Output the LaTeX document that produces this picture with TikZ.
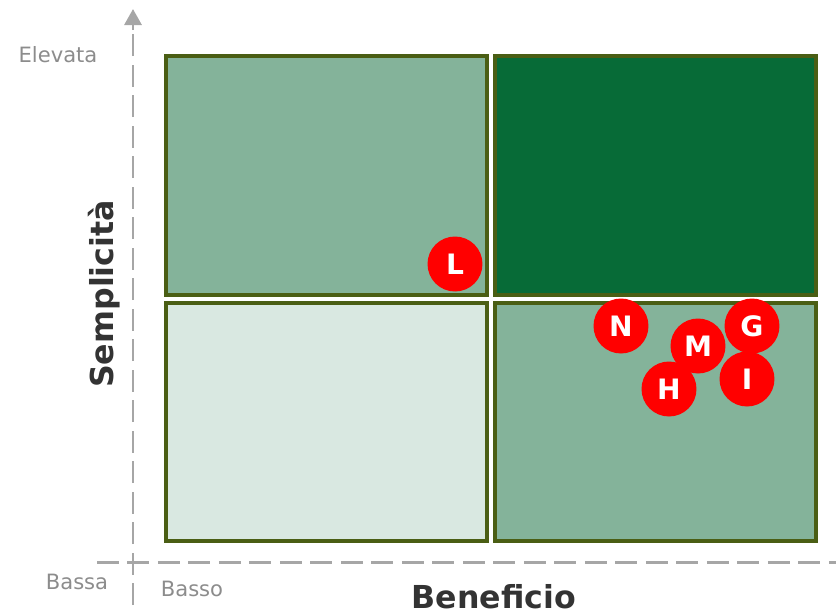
\documentclass[tikz,border=0pt]{standalone}
\usepackage{fontspec}
\setmainfont{DejaVu Sans}
\usepackage{tikz}
\usetikzlibrary{arrows.meta}

\definecolor{bordo}{HTML}{4A5E14}
\definecolor{medio}{HTML}{84B39A}
\definecolor{scuro}{HTML}{076B37}
\definecolor{chiaro}{HTML}{D9E8E1}
\definecolor{asse}{HTML}{A6A6A6}
\definecolor{etich}{HTML}{8C8C8C}
\definecolor{titolo}{HTML}{333333}

\begin{document}
\begin{tikzpicture}[x=0.02cm, y=-0.02cm,
    quadrante/.style={draw=bordo, line width=2pt},
    progetto/.style={shape=circle, fill=red, text=white, minimum size=1.1cm, inner sep=0pt, font=\fontsize{16}{18}\selectfont\bfseries},
    livello/.style={text=etich, font=\fontsize{12}{14}\selectfont},
    assetratt/.style={draw=asse, line width=1.7pt, dash pattern=on 0.44cm off 0.17cm}]
        \useasboundingbox (0,0) rectangle (836,616);
        % quadranti
        \draw[quadrante, fill=medio] (166,56) rectangle (487,295);
        \draw[quadrante, fill=scuro] (495,56) rectangle (816,295);
        \draw[quadrante, fill=chiaro] (166,303) rectangle (487,541);
        \draw[quadrante, fill=medio] (495,303) rectangle (816,541);
        % assi
        \coordinate (Y0) at (133,605);
        \coordinate (Y1) at (133,9);
        \coordinate (X0) at (97,562);
        \coordinate (X1) at (836,562);
        \draw[assetratt] (Y0) -- (133,28);
        \draw[asse, line width=1.7pt, -{Triangle[width=0.34cm, length=0.32cm]}] (133,30) -- (Y1);
        \draw[assetratt] (X0) -- (X1);
        % etichette
        \node[livello] (elevata) at (58,55) {Elevata};
        \node[livello] (bassa) at (77,582) {Bassa};
        \node[livello] (basso) at (192,589) {Basso};
        \node[text=titolo, rotate=90, font=\fontsize{18}{21}\selectfont\bfseries] (sempl) at (104,294) {Semplicità};
        \node[text=titolo, font=\fontsize{18}{21}\selectfont\bfseries] (benef) at (494,597) {Beneficio};
        % progetti
        \node[progetto] (L) at (455,264) {L};
        \node[progetto] (N) at (621,326) {N};
        \node[progetto] (G) at (752,326) {G};
        \node[progetto] (M) at (698,346) {M};
        \node[progetto] (I) at (747,379) {I};
        \node[progetto] (H) at (669,389) {H};
    \end{tikzpicture}
\end{document}
